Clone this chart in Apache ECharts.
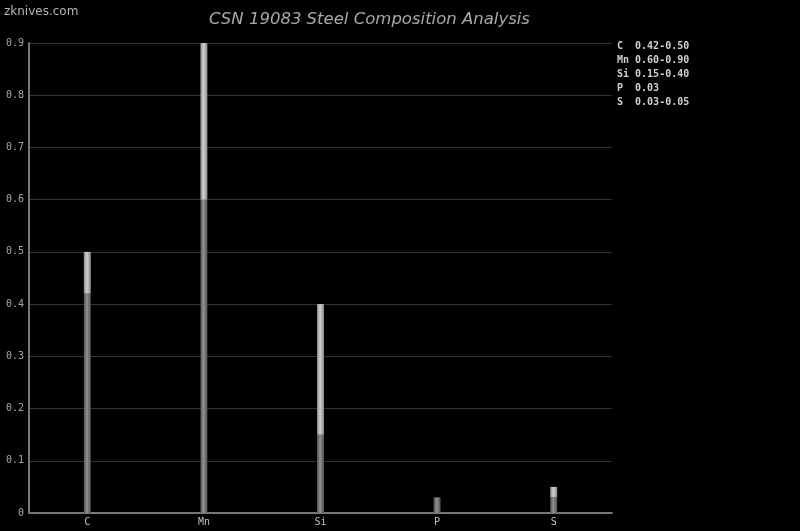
<!DOCTYPE html>
<html>
<head>
<meta charset="utf-8">
<script src="https://cdn.jsdelivr.net/npm/echarts@6/dist/echarts.min.js"></script>
<style>html,body{margin:0;padding:0;background:#000;}#c{width:800px;height:531px;}</style>
</head>
<body>
<div id="c"></div>
<script>
const categories = ['C', 'Mn', 'Si', 'P', 'S'];
const minValues = [0.42, 0.60, 0.15, 0.03, 0.03];
const maxValues = [0.50, 0.90, 0.40, 0.03, 0.05];
const rangeLabels = ['0.42-0.50', '0.60-0.90', '0.15-0.40', '0.03', '0.03-0.05'];
const yTicks = [0, 0.1, 0.2, 0.3, 0.4, 0.5, 0.6, 0.7, 0.8, 0.9];

const upperValues = maxValues.map((v, i) => +(v - minValues[i]).toFixed(4));

function grad(edge, mid) {
  return new echarts.graphic.LinearGradient(0, 0, 1, 0, [
    {offset: 0, color: edge}, {offset: 0.45, color: mid}, {offset: 1, color: edge}
  ]);
}

const mono = 'DejaVu Sans Mono';
const legendText = categories.map((c, i) => (c + '  ').slice(0, 3) + rangeLabels[i]).join('\n');

const chart = echarts.init(document.getElementById('c'));
chart.setOption({
  backgroundColor: '#000',
  animation: false,
  title: {
    text: 'CSN 19083 Steel Composition Analysis',
    left: 204, top: 6,
    textStyle: {color: '#a8a8a8', fontSize: 16.5, fontStyle: 'italic', fontWeight: 'normal', fontFamily: 'DejaVu Sans'}
  },
  graphic: [
    {type: 'text', left: 4, top: 6, style: {text: 'zknives.com', fill: '#b5b5b5', font: '12px "DejaVu Sans"'}},
    {type: 'text', left: 617, top: 39, style: {text: legendText, fill: '#d0d0d0', font: 'bold 10px "DejaVu Sans Mono"', lineHeight: 14}}
  ],
  grid: {left: 29, right: 188, top: 43, bottom: 18, containLabel: false},
  xAxis: {
    type: 'category', data: categories,
    axisLine: {lineStyle: {color: '#777', width: 2}},
    axisTick: {show: false},
    axisLabel: {color: '#c0c0c0', fontFamily: mono, fontSize: 10, margin: 4}
  },
  yAxis: {
    type: 'value', min: yTicks[0], max: yTicks[yTicks.length - 1], interval: 0.1,
    axisLine: {show: true, lineStyle: {color: '#777', width: 2}},
    axisTick: {show: false},
    axisLabel: {color: '#a8a8a8', fontFamily: mono, fontSize: 10, margin: 5},
    splitLine: {lineStyle: {color: '#333', width: 1}}
  },
  series: [
    {type: 'bar', stack: 's', data: minValues, barWidth: 7,
     itemStyle: {color: grad('#505050', '#929292')}},
    {type: 'bar', stack: 's', data: upperValues, barWidth: 7,
     itemStyle: {color: grad('#8a8a8a', '#d0d0d0')}}
  ]
});
</script>
</body>
</html>
